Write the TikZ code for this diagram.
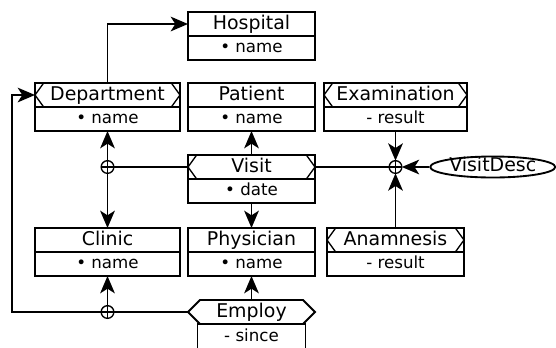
\documentclass[tikz,border=0pt]{standalone}
\usepackage{fontspec}
\setmainfont{DejaVu Sans}
\usetikzlibrary{arrows.meta, positioning, shapes.geometric, shapes.symbols}

\tikzset{
  entity/.style={draw, rectangle, inner sep=0pt, outer sep=0pt, minimum height=18pt,
    text height=10.5pt, text depth=3pt, font=\fontsize{14.2}{16}\selectfont},
  attr/.style={draw, rectangle, inner sep=0pt, outer sep=0pt, minimum height=18pt,
    text height=9pt, text depth=2.5pt, font=\fontsize{12.5}{14}\selectfont},
  notched/.style={entity, path picture={
      \draw[line width=1pt] ([xshift=6.5pt]path picture bounding box.north west) -- (path picture bounding box.west)
        -- ([xshift=6.5pt]path picture bounding box.south west);
      \draw[line width=1pt] ([xshift=-6.5pt]path picture bounding box.north east) -- (path picture bounding box.east)
        -- ([xshift=-6.5pt]path picture bounding box.south east);}},
  relship/.style={entity, shape=signal, signal to=west and east, signal pointer angle=90},
  junction/.style={draw, circle, inner sep=0pt, outer sep=0pt, minimum size=9.5pt, line width=1pt, path picture={
      \draw (path picture bounding box.north) -- (path picture bounding box.south)
        (path picture bounding box.west) -- (path picture bounding box.east);}},
}

\begin{document}
\begin{tikzpicture}[>={Stealth[length=13pt, width=11pt, inset=3.5pt]}, line width=1.4pt]
        \useasboundingbox (0,0) rectangle (417pt,-260.25pt);

        \node (Dept) [notched, minimum width=108.75pt] at (80.625pt,-71.25pt) {Department};
        \node (DeptA) [attr, minimum width=108.75pt, below=0pt of Dept] {• name};
        \node (Pat) [entity, minimum width=95.25pt, right=6pt of Dept] {Patient};
        \node (PatA) [attr, minimum width=95.25pt, below=0pt of Pat] {• name};
        \node (HospA) [attr, minimum width=95.25pt, above=17.25pt of Pat] {• name};
        \node (Hosp) [entity, minimum width=95.25pt, above=0pt of HospA] {Hospital};
        \node (Exam) [notched, minimum width=107.25pt, right=6.75pt of Pat] {Examination};
        \node (ExamA) [attr, minimum width=107.25pt, below=0pt of Exam] {- result};
        \node (Visit) [notched, minimum width=95.25pt, below=18pt of PatA] {Visit};
        \node (VisitA) [attr, minimum width=95.25pt, below=0pt of Visit] {• date};
        \node (Phys) [entity, minimum width=95.25pt, below=18.75pt of VisitA] {Physician};
        \node (PhysA) [attr, minimum width=95.25pt, below=0pt of Phys] {• name};
        \node (Clinic) [entity, minimum width=108.75pt, left=6pt of Phys] {Clinic};
        \node (ClinicA) [attr, minimum width=108.75pt, below=0pt of Clinic] {• name};
        \node (Anam) [notched, minimum width=102.75pt, right=9pt of Phys] {Anamnesis};
        \node (AnamA) [attr, minimum width=102.75pt, below=0pt of Anam] {- result};
        \node (Emp) [relship, minimum width=95.25pt, below=18pt of PhysA] {Employ};
        \node (EmpA) [attr, minimum width=81pt, minimum height=20pt, below=0pt of Emp] {- since};

        \node (J1) [junction] at (DeptA |- Visit) {};
        \node (J2) [junction] at (ClinicA |- Emp) {};
        \node (J3) [junction] at (ExamA |- Visit) {};
        \node (Desc) [draw, ellipse, inner sep=0pt, minimum width=93.75pt, minimum height=15.75pt,
          text height=9pt, text depth=2pt, font=\fontsize{14.2}{16}\selectfont, right=20.6pt of J3] {VisitDesc};
        \coordinate[left=17.25pt of Dept] (Ret);

        \draw[->] (Dept) |- (Hosp);
        \draw[->] (J1) -- (DeptA);
        \draw[->] (J1) -- (Clinic);
        \draw (J1) -- (Visit);
        \draw[->] (Visit) -- (PatA);
        \draw[->] (VisitA) -- (Phys);
        \draw (Visit) -- (J3);
        \draw[->] (ExamA) -- (J3);
        \draw[->] (Anam) -- (J3);
        \draw[->] (Desc) -- (J3);
        \draw (Emp) -- (J2);
        \draw[->] (J2) -- (ClinicA);
        \draw[->] (J2) -| (Ret) -- (Dept);
        \draw[->] (Emp) -- (PhysA);
    \end{tikzpicture}
\end{document}
